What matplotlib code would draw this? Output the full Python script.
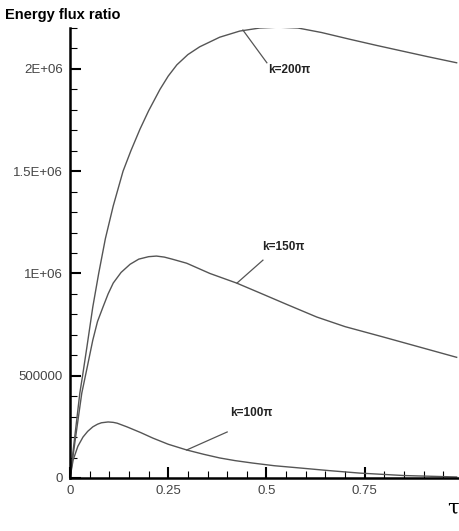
import matplotlib
matplotlib.use("Agg")
import matplotlib.pyplot as plt
from matplotlib.ticker import FixedLocator, FixedFormatter, MultipleLocator

# curves: tau, energy flux ratio
tau_200 = [0.0, 0.012, 0.025, 0.032, 0.043, 0.058, 0.073, 0.090, 0.110, 0.135, 0.155,
           0.178, 0.200, 0.229, 0.250, 0.272, 0.300, 0.330, 0.381, 0.432, 0.483, 0.530,
           0.580, 0.640, 0.712, 0.780, 0.839, 0.910, 0.984]
flux_200 = [0.0, 0.20e6, 0.415e6, 0.50e6, 0.64e6, 0.836e6, 1.0e6, 1.17e6, 1.33e6, 1.50e6, 1.60e6,
            1.705e6, 1.795e6, 1.90e6, 1.965e6, 2.02e6, 2.07e6, 2.108e6, 2.155e6, 2.185e6, 2.20e6, 2.204e6,
            2.20e6, 2.178e6, 2.145e6, 2.115e6, 2.09e6, 2.06e6, 2.03e6]

tau_150 = [0.0, 0.015, 0.030, 0.042, 0.058, 0.070, 0.084, 0.097, 0.110, 0.130, 0.153,
           0.175, 0.200, 0.220, 0.240, 0.260, 0.297, 0.356, 0.424, 0.483, 0.550, 0.628,
           0.700, 0.796, 0.890, 0.984]
flux_150 = [0.0, 0.21e6, 0.415e6, 0.525e6, 0.674e6, 0.765e6, 0.836e6, 0.90e6, 0.953e6, 1.005e6, 1.045e6,
            1.07e6, 1.082e6, 1.085e6, 1.08e6, 1.07e6, 1.05e6, 1.0e6, 0.953e6, 0.905e6, 0.85e6, 0.787e6,
            0.74e6, 0.69e6, 0.64e6, 0.59e6]

tau_100 = [0.0, 0.008, 0.020, 0.033, 0.045, 0.058, 0.070, 0.080, 0.097, 0.110, 0.120, 0.145,
           0.180, 0.211, 0.250, 0.297, 0.340, 0.381, 0.420, 0.465, 0.520, 0.585, 0.660,
           0.737, 0.850, 0.984]
flux_100 = [0.0, 0.088e6, 0.155e6, 0.20e6, 0.228e6, 0.25e6, 0.263e6, 0.27e6, 0.274e6, 0.272e6, 0.268e6, 0.25e6,
            0.222e6, 0.195e6, 0.165e6, 0.137e6, 0.116e6, 0.098e6, 0.085e6, 0.073e6, 0.06e6, 0.049e6, 0.036e6,
            0.024e6, 0.012e6, 0.005e6]

labels = ["k=200\u03c0", "k=150\u03c0", "k=100\u03c0"]
# leader: point on curve -> end of leader, then text position
leader_start = [(0.440, 2.19e6), (0.425, 0.953e6), (0.297, 0.137e6)]
leader_end = [(0.501, 2.03e6), (0.491, 1.065e6), (0.400, 0.225e6)]
text_pos = [(0.503, 1.994e6), (0.490, 1.13e6), (0.407, 0.318e6)]

xticks = [0, 0.25, 0.5, 0.75]
xticklabels = ["0", "0.25", "0.5", "0.75"]
yticks = [0, 500000, 1000000, 1500000, 2000000]
yticklabels = ["0", "500000", "1E+06", "1.5E+06", "2E+06"]

fig = plt.figure(figsize=(4.59, 5.31), dpi=100)
ax = fig.add_axes([70 / 459, 1 - 478 / 531, 1 - 70 / 459, (478 - 28) / 531])

line_col = "#555555"
ax.plot(tau_200, flux_200, color=line_col, lw=1.0)
ax.plot(tau_150, flux_150, color=line_col, lw=1.0)
ax.plot(tau_100, flux_100, color=line_col, lw=1.0)

for lab, p0, p1, tp in zip(labels, leader_start, leader_end, text_pos):
    ax.plot([p0[0], p1[0]], [p0[1], p1[1]], color=line_col, lw=0.9)
    ax.text(tp[0], tp[1], lab, fontsize=8.5, fontweight="bold", color="#222222",
            ha="left", va="center", family=["Liberation Sans", "DejaVu Sans"])

ax.set_xlim(0, 0.99)
ax.set_ylim(0, 2.2e6)
ax.xaxis.set_major_locator(FixedLocator(xticks))
ax.xaxis.set_major_formatter(FixedFormatter(xticklabels))
ax.xaxis.set_minor_locator(MultipleLocator(0.05))
ax.yaxis.set_major_locator(FixedLocator(yticks))
ax.yaxis.set_major_formatter(FixedFormatter(yticklabels))
ax.yaxis.set_minor_locator(MultipleLocator(100000))

ax.spines["top"].set_visible(False)
ax.spines["right"].set_visible(False)
ax.spines["left"].set_linewidth(1.8)
ax.spines["bottom"].set_linewidth(1.8)
ax.tick_params(which="major", direction="in", length=8, width=1.5, labelsize=9.5,
               labelcolor="#444444", pad=5)
ax.tick_params(which="minor", direction="in", length=5, width=0.8)
for t in ax.get_xticklabels() + ax.get_yticklabels():
    t.set_family(["Liberation Sans", "DejaVu Sans"])

fig.text(5 / 459, 1 - 15 / 531, "Energy flux ratio", fontsize=10.5, fontweight="bold",
         ha="left", va="center", family=["Liberation Sans", "DejaVu Sans"])
fig.text(0.999, 1 - 508 / 531, "\u03c4", fontsize=15, ha="right", va="center",
         family="DejaVu Serif")

fig.savefig("out.png", dpi=100)
